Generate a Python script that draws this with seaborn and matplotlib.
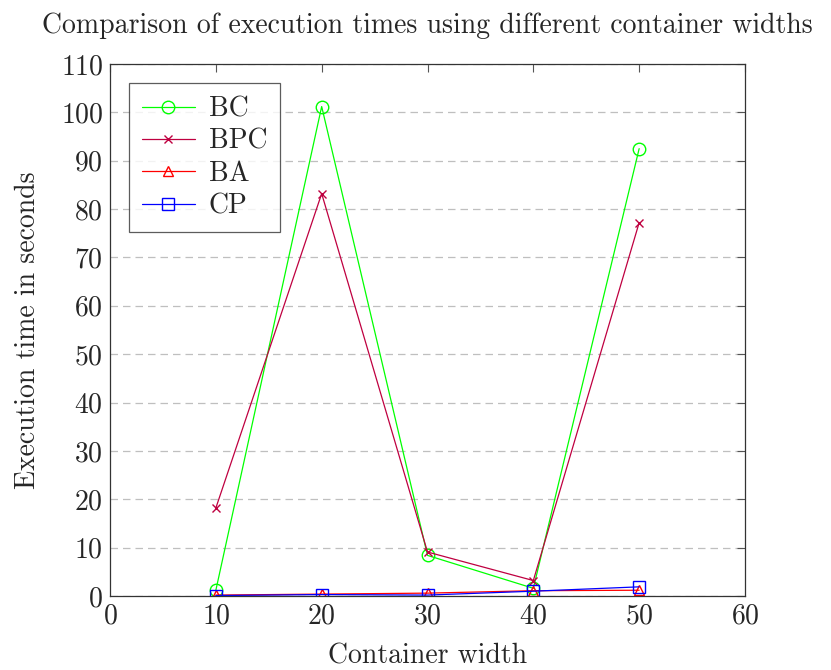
import matplotlib
matplotlib.use("Agg")
import matplotlib.pyplot as plt
import seaborn as sns
import pandas as pd

widths = [10, 20, 30, 40, 50]
bc = [1.2, 101.2, 8.4, 1.6, 92.5]
bpc = [18.2, 83.2, 9.1, 3.2, 77.2]
ba = [0.2, 0.4, 0.6, 1.1, 1.2]
cp = [0.1, 0.3, 0.2, 1.0, 1.9]
series = ["BC", "BPC", "BA", "CP"]
colors = {"BC": "#00ff00", "BPC": "#bf0040", "BA": "#ff0000", "CP": "#0000ff"}
markers = {"BC": "o", "BPC": "x", "BA": "^", "CP": "s"}
msizes = {"BC": 9, "BPC": 6, "BA": 7, "CP": 8}

rows = []
for name, vals in zip(series, [bc, bpc, ba, cp]):
    for w, v in zip(widths, vals):
        rows.append({"Container width": w, "Time": v, "Series": name})
df = pd.DataFrame(rows)

sns.set_theme(style="white")
plt.rcParams["font.family"] = ["cmr10", "DejaVu Serif"]
plt.rcParams["axes.formatter.use_mathtext"] = True
plt.rcParams["mathtext.fontset"] = "cm"

FS = 20
fig = plt.figure(figsize=(8.31, 6.70), dpi=100)
ax = fig.add_axes([0.1324, 0.1104, 0.8965 - 0.1324, 0.9045 - 0.1104])

for name in series:
    sub = df[df["Series"] == name]
    sns.lineplot(data=sub, x="Container width", y="Time", ax=ax, color=colors[name],
                 marker=markers[name], markersize=msizes[name], markerfacecolor="none",
                 markeredgecolor=colors[name], markeredgewidth=1.0, linewidth=0.9,
                 label=name)

ax.set_xlim(0, 60)
ax.set_ylim(0, 110)
ax.set_xticks(range(0, 61, 10))
ax.set_yticks(range(0, 111, 10))
ax.yaxis.grid(True, linestyle=(0, (6, 4)), color="#bfbfbf", linewidth=0.9)
ax.xaxis.grid(False)
ax.set_axisbelow(True)
ax.tick_params(direction="in", length=6, width=0.8, top=True, right=True,
               labelsize=FS, color="#555555", pad=5)
for s in ax.spines.values():
    s.set_color("#333333")
    s.set_linewidth(0.9)

ax.set_xlabel("Container width", fontsize=FS, labelpad=10)
ax.set_ylabel("Execution time in seconds", fontsize=FS, labelpad=14)
ax.set_title("Comparison of execution times using different container widths", fontsize=FS, pad=22)

leg = ax.legend(loc="upper left", fontsize=FS, frameon=True, fancybox=False,
                edgecolor="#333333", borderaxespad=0.7, handlelength=1.9,
                labelspacing=0.22, borderpad=0.45, handletextpad=0.5)
leg.get_frame().set_linewidth(0.9)

fig.savefig("out.png", dpi=100)
